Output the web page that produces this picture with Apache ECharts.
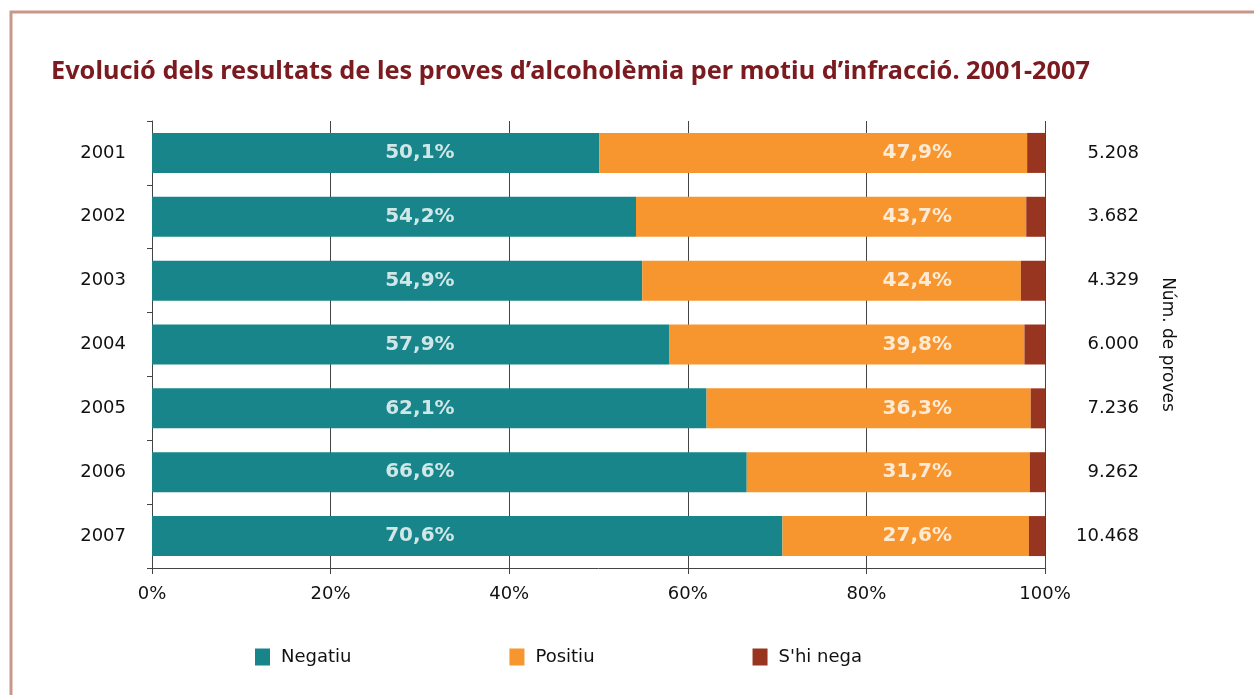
<!DOCTYPE html>
<html>
<head>
<meta charset="utf-8">
<script src="https://cdn.jsdelivr.net/npm/echarts@6/dist/echarts.min.js"></script>
<style>
  html, body { margin: 0; padding: 0; background: #fff; }
  #chart { width: 1254px; height: 695px; }
</style>
</head>
<body>
<div id="chart"></div>
<script>
// dades llegides del gràfic
const years = ["2001", "2002", "2003", "2004", "2005", "2006", "2007"];
const negatiu = [50.1, 54.2, 54.9, 57.9, 62.1, 66.6, 70.6];
const positiu = [47.9, 43.7, 42.4, 39.8, 36.3, 31.7, 27.6];
const shiNega = [2.0, 2.1, 2.7, 2.3, 1.6, 1.7, 1.8];
const numProves = ["5.208", "3.682", "4.329", "6.000", "7.236", "9.262", "10.468"];
const xTicks = [0, 20, 40, 60, 80, 100];

// posició fixa de les etiquetes dins les barres (en %)
const negLabelX = 30;
const posLabelX = 85.7;

const fmt = (v) => v.toFixed(1).replace(".", ",") + "%";

const myChart = echarts.init(document.getElementById("chart"));

const labelSeries = (name, values, x) => ({
  name: name,
  type: "scatter",
  symbolSize: 0,
  silent: true,
  z: 10,
  data: values.map((v, i) => [x, i]),
  label: {
    show: true,
    position: "inside",
    color: "#fff",
    fontFamily: "DejaVu Sans",
    fontWeight: "bold",
    fontSize: 20,
    formatter: (p) => fmt(values[p.dataIndex]),
  },
});

let option = {
  animation: false,
  backgroundColor: "#fff",
  title: {
    text: "Evolució dels resultats de les proves d’alcoholèmia per motiu d’infracció. 2001-2007",
    left: 46,
    top: 54,
    textStyle: {
      fontFamily: "Noto Sans",
      fontWeight: "bold",
      fontSize: 25.3,
      color: "#7b1a1f",
    },
  },
  graphic: [
    {
      type: "polyline",
      shape: { points: [[11, 695], [11, 12], [1254, 12]] },
      style: { stroke: "#c9978a", lineWidth: 3, fill: null },
    },
  ],
  legend: {
    data: ["Negatiu", "Positiu", "S'hi nega"],
    left: 250,
    top: 643,
    itemWidth: 15,
    itemHeight: 17,
    itemGap: 158,
    icon: "rect",
    textStyle: {
      fontFamily: "DejaVu Sans",
      fontSize: 18,
      color: "#111",
      padding: [0, 0, 0, 6],
    },
  },
  grid: { left: 152, right: 209, top: 121, bottom: 127 },
  xAxis: {
    type: "value",
    min: xTicks[0],
    max: xTicks[xTicks.length - 1],
    interval: 20,
    axisLine: { show: true, lineStyle: { color: "#444" } },
    axisTick: { show: true, length: 6, lineStyle: { color: "#444" } },
    splitLine: { show: true, lineStyle: { color: "#444", width: 1 } },
    axisLabel: {
      formatter: "{value}%",
      margin: 17,
      fontFamily: "DejaVu Sans",
      fontSize: 18,
      color: "#111",
    },
  },
  yAxis: [
    {
      type: "category",
      data: years,
      inverse: true,
      axisLine: { show: true, lineStyle: { color: "#444" } },
      axisTick: { show: true, length: 5, lineStyle: { color: "#444" } },
      axisLabel: { margin: 26, fontFamily: "DejaVu Sans", fontSize: 18, color: "#111" },
    },
    {
      type: "category",
      data: numProves,
      inverse: true,
      position: "right",
      axisLine: { show: false },
      axisTick: { show: false },
      axisLabel: {
        align: "right",
        margin: 94,
        fontFamily: "DejaVu Sans",
        fontSize: 18,
        color: "#111",
      },
      name: "Núm. de proves",
      nameLocation: "middle",
      nameRotate: -90,
      nameGap: 114,
      nameTextStyle: { fontFamily: "DejaVu Sans", fontSize: 17, color: "#111" },
    },
  ],
  series: [
    {
      name: "Negatiu",
      type: "bar",
      stack: "total",
      barWidth: 40,
      itemStyle: { color: "#17858a" },
      data: negatiu,
    },
    {
      name: "Positiu",
      type: "bar",
      stack: "total",
      barWidth: 40,
      itemStyle: { color: "#f7962e" },
      data: positiu,
    },
    {
      name: "S'hi nega",
      type: "bar",
      stack: "total",
      barWidth: 40,
      itemStyle: { color: "#973521" },
      data: shiNega,
    },
    labelSeries("negLabels", negatiu, negLabelX),
    labelSeries("posLabels", positiu, posLabelX),
  ],
};

option && myChart.setOption(option);
window.addEventListener("resize", function () {
  myChart.resize();
});
</script>
</body>
</html>
